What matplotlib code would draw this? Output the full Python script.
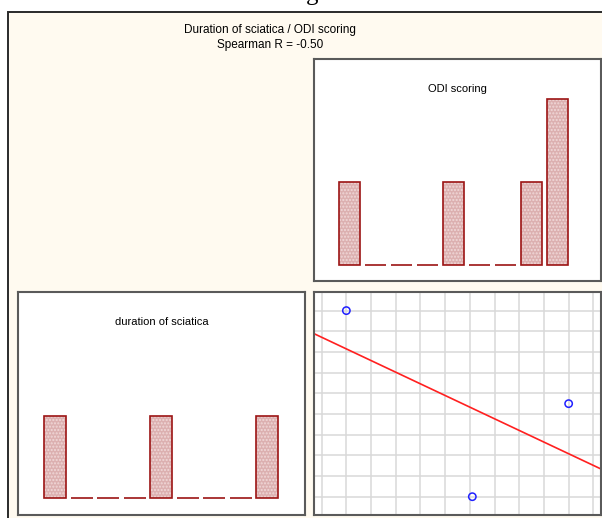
import numpy as np
import matplotlib
matplotlib.use('Agg')
import matplotlib.pyplot as plt
from matplotlib.patches import Rectangle

plt.rcParams['font.family'] = ['Liberation Sans', 'DejaVu Sans']

# ── data ──
odi_counts = [1, 0, 0, 0, 1, 0, 0, 1, 2]
duration_counts = [1, 0, 0, 0, 1, 0, 0, 0, 1]
duration = [1.0, 6.1, 10.0]
odi = [9.0, 0.0, 4.5]
title_lines = ['Duration of sciatica / ODI scoring', 'Spearman R = -0.50']

W, H = 602, 518
fig = plt.figure(figsize=(W / 100, H / 100), dpi=100)
fig.patch.set_facecolor('white')


def px_rect(x0, y0, x1, y1):
    """pixel box (top-left origin) -> figure fraction"""
    return [x0 / W, 1 - y1 / H, (x1 - x0) / W, (y1 - y0) / H]


# beige background with dark left/top border (behind the panels)
fig.add_artist(Rectangle((8 / W, -0.01), 1.0, 1 - 12 / H + 0.01,
                         transform=fig.transFigure, facecolor='#fffaf0',
                         edgecolor='#2a2a2a', linewidth=1.4, zorder=-10))

# cut-off heading letter at the very top (as in the source)
fig.text(312 / W, 1.0, 'g', family='Liberation Serif', fontsize=18,
         ha='center', va='baseline', color='black')

fig.text(270 / W, 1 - 30 / H, title_lines[0], ha='center', va='center', fontsize=8.5)
fig.text(270 / W, 1 - 45 / H, title_lines[1], ha='center', va='center', fontsize=8.5)


def panel(rect):
    ax = fig.add_axes(rect)
    ax.set_facecolor('white')
    ax.set_xticks([])
    ax.set_yticks([])
    for s in ax.spines.values():
        s.set_color('#5a5a5a')
        s.set_linewidth(1.5)
    return ax


def hist_bars(ax, counts, width):
    x = np.arange(len(counts))
    ax.bar(x, counts, width=width, color='#dcb0b0', hatch='.....',
           edgecolor='#f0d8d8', linewidth=0)
    ax.bar(x, counts, width=width, fill=False, edgecolor='#9c1414', linewidth=1.2)


# ODI scoring histogram (top right)
ax1 = panel(px_rect(314, 59, 601, 281))
hist_bars(ax1, odi_counts, 21 / 26)
ax1.set_xlim(-1.365, 9.673)
ax1.set_ylim(-0.193, 2.482)
ax1.text(0.5, 1 - 30 / 222, 'ODI scoring', transform=ax1.transAxes,
         ha='center', va='center', fontsize=8)

# duration of sciatica histogram (bottom left)
ax2 = panel(px_rect(18, 292, 305, 515))
hist_bars(ax2, duration_counts, 22 / 26.5)
ax2.set_xlim(-1.408, 9.42)
ax2.set_ylim(-0.207, 2.512)
ax2.text(0.5, 1 - 30 / 223, 'duration of sciatica', transform=ax2.transAxes,
         ha='center', va='center', fontsize=8)

# scatter with regression line (bottom right)
ax3 = panel(px_rect(314, 292, 601, 515))
ax3.set_xlim(-0.31, 11.31)
ax3.set_ylim(-0.885, 9.90)
ax3.set_xticks(np.arange(0, 12))
ax3.set_yticks(np.arange(0, 10))
ax3.tick_params(length=0, labelbottom=False, labelleft=False)
ax3.grid(True, color='#d9d9d9', linewidth=1.1)
ax3.set_axisbelow(True)
slope, icpt = np.polyfit(duration, odi, 1)
xl = np.array(ax3.get_xlim())
ax3.plot(xl, slope * xl + icpt, color='#ff2020', linewidth=1.2)
ax3.scatter(duration, odi, s=28, facecolors='none', edgecolors='#2020ff',
            linewidths=1.1, zorder=3)
ax3.set_xlim(-0.31, 11.31)

plt.savefig('out.png', dpi=100)
